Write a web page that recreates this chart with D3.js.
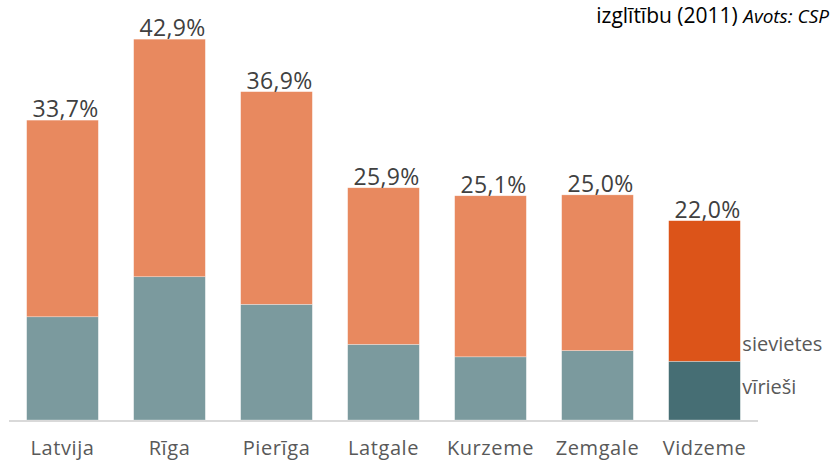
<!DOCTYPE html>
<html>
<head>
<meta charset="utf-8">
<script src="https://cdn.jsdelivr.net/npm/d3@7"></script>
<style>
  html, body { margin: 0; padding: 0; background: #fff; }
  svg { display: block; }
  text { font-family: "Open Sans", "Noto Sans", sans-serif; }
</style>
</head>
<body>
<svg id="chart" width="831" height="461"></svg>
<script>
const categories = ["Latvija", "Rīga", "Pierīga", "Latgale", "Kurzeme", "Zemgale", "Vidzeme"];
const men =   [11.6, 16.1, 13.0, 8.5, 7.1, 7.8, 6.6];
const women = [22.1, 26.7, 23.9, 17.6, 18.1, 17.5, 15.8];
const totalLabels = ["33,7%", "42,9%", "36,9%", "25,9%", "25,1%", "25,0%", "22,0%"];
const seriesNames = ["vīrieši", "sievietes"];
const titleText = "izglītību (2011) ";
const sourceText = "Avots: CSP";

const svg = d3.select("#chart");
const baseY = 420;

const x = d3.scaleBand().domain(categories).range([9, 758]).paddingInner(0.33).paddingOuter(0.165);
const y = d3.scaleLinear().domain([0, 47.2]).range([baseY, 0]);

const data = categories.map((c, i) => ({ cat: c, men: men[i], women: women[i], label: totalLabels[i], hi: i === categories.length - 1 }));
const layers = d3.stack().keys(["men", "women"])(data);

const colors = {
  men: "#7B9A9E", women: "#E8895F",
  menHi: "#466E74", womenHi: "#DC5419"
};

const g = svg.append("g");
layers.forEach(layer => {
  g.selectAll(null).data(layer).enter().append("rect")
    .attr("x", d => x(d.data.cat))
    .attr("width", x.bandwidth())
    .attr("y", d => y(d[1]))
    .attr("height", d => y(d[0]) - y(d[1]))
    .attr("fill", d => d.data.hi ? colors[layer.key + "Hi"] : colors[layer.key])
    .attr("stroke", "#ffffff")
    .attr("stroke-opacity", 0.5)
    .attr("stroke-width", 0.6);
});

// axis
const xAxis = d3.axisBottom(x).tickSize(0).tickPadding(21);
const ax = svg.append("g").attr("transform", `translate(0,${baseY})`).call(xAxis);
ax.select(".domain").attr("stroke", "#D9D9D9").attr("stroke-width", 2).attr("d", `M${x.range()[0]},1H${x.range()[1]}`);
ax.selectAll(".tick text")
  .attr("fill", "#595959")
  .attr("font-size", 20)
  .attr("letter-spacing", 0.6)
  .attr("dy", "0.71em");

// total labels
g.selectAll(null).data(data).enter().append("text")
  .attr("x", d => x(d.cat) + x.bandwidth() / 2 + 3)
  .attr("y", d => y(d.men + d.women) - 3)
  .attr("text-anchor", "middle")
  .attr("fill", "#404040")
  .attr("font-size", 23)
  .attr("letter-spacing", 0.3)
  .text(d => d.label);

// series labels next to last bar
const last = data[data.length - 1];
const lx = x(last.cat) + x.bandwidth() + 2;
svg.append("text").attr("x", lx).attr("y", 351).attr("fill", "#595959").attr("font-size", 20).text(seriesNames[1]);
svg.append("text").attr("x", lx).attr("y", 394).attr("fill", "#595959").attr("font-size", 20).text(seriesNames[0]);

// title fragment
const t = svg.append("text").attr("x", 829).attr("y", 23).attr("text-anchor", "end").attr("fill", "#000").attr("font-size", 21);
t.append("tspan").text(titleText);
t.append("tspan").attr("font-style", "italic").attr("font-size", 19).text(sourceText);
</script>
</body>
</html>
